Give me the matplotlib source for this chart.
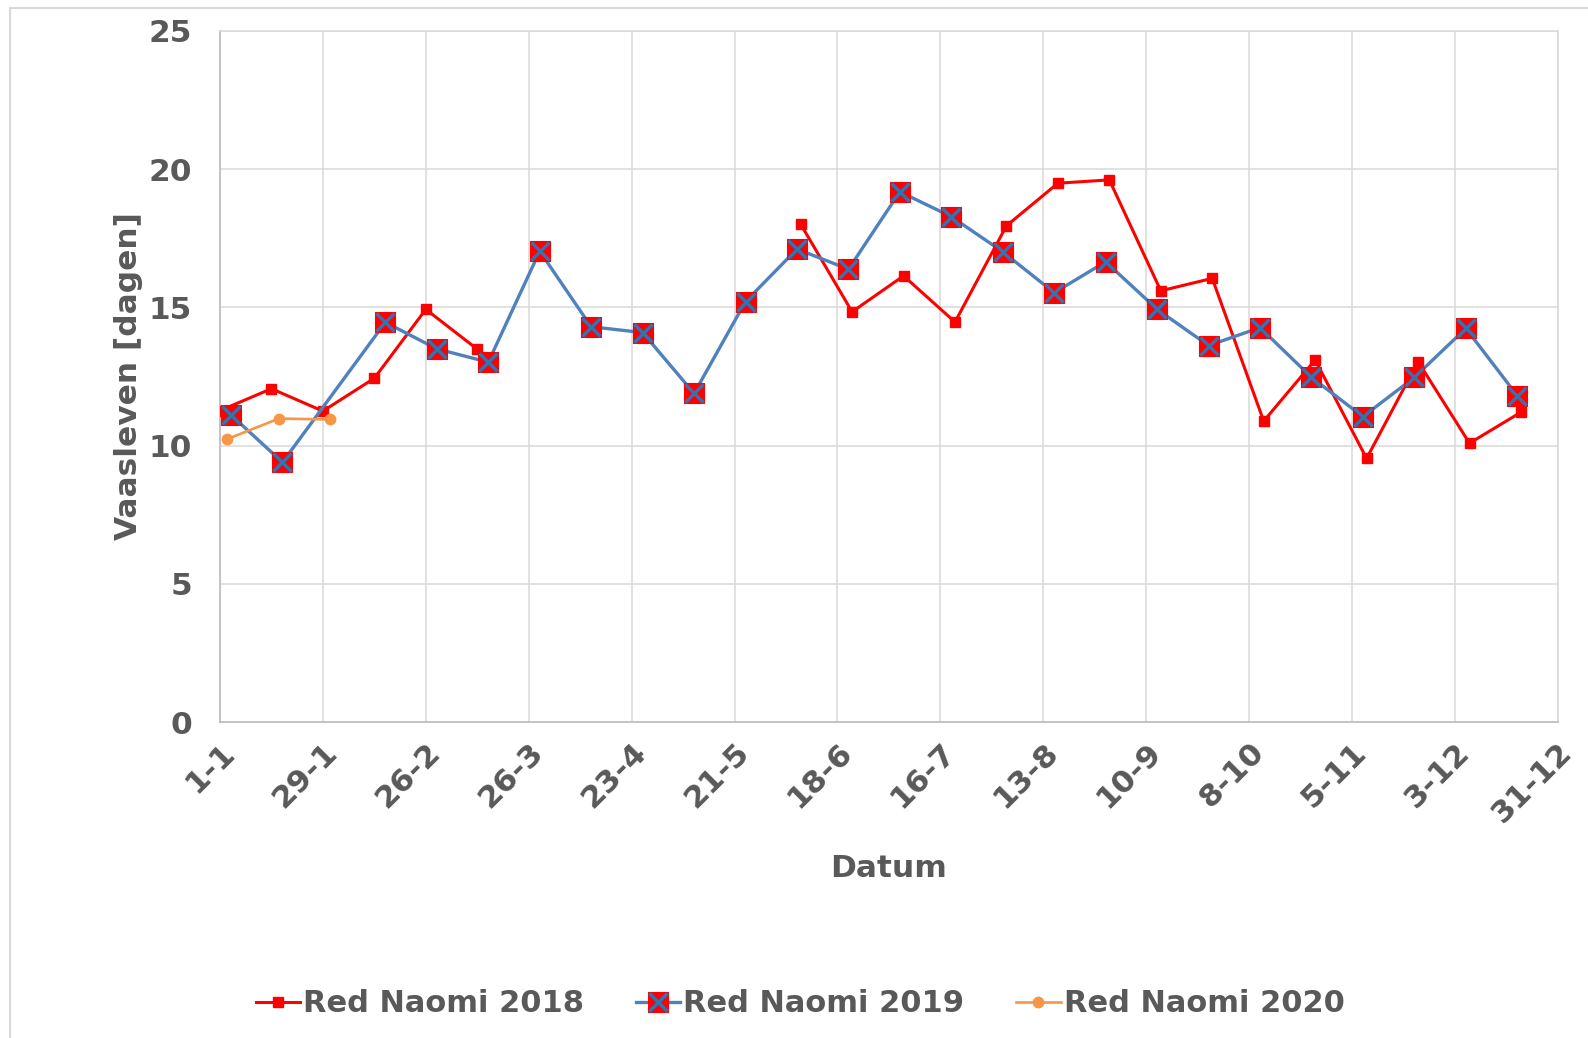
import numpy as np
import matplotlib
matplotlib.use("Agg")
import matplotlib.pyplot as plt
from matplotlib.legend_handler import HandlerTuple
from matplotlib.patches import Rectangle

# ---- data (x = days since 1 January) ----
tick_days = [0, 28, 56, 84, 112, 140, 168, 196, 224, 252, 280, 308, 336, 364]
tick_labels = ["1-1", "29-1", "26-2", "26-3", "23-4", "21-5", "18-6", "16-7",
               "13-8", "10-9", "8-10", "5-11", "3-12", "31-12"]

days_2018 = [0, 14, 28, 42, 56, 70, 158, 172, 186, 200, 214, 228, 242, 256,
             270, 284, 298, 312, 326, 340, 354]
vals_2018 = [11.27, 12.06, 11.25, 12.44, 14.93, 13.49, 18.01, 14.84, 16.14,
             14.47, 17.95, 19.49, 19.61, 15.60, 16.05, 10.89, 13.10, 9.54,
             13.04, 10.09, 11.21]

days_2019 = [3, 17, 45, 59, 73, 87, 101, 115, 129, 143, 157, 171, 185, 199,
             213, 227, 241, 255, 269, 283, 297, 311, 325, 339, 353]
vals_2019 = [11.11, 9.40, 14.46, 13.50, 13.02, 17.03, 14.30, 14.09, 11.89,
             15.21, 17.11, 16.38, 19.18, 18.28, 17.01, 15.53, 16.65, 14.93,
             13.62, 14.27, 12.47, 11.05, 12.47, 14.24, 11.81]

days_2020 = [2, 16, 30]
vals_2020 = [10.24, 10.98, 10.95]

labels = ["Red Naomi 2018", "Red Naomi 2019", "Red Naomi 2020"]

TXT = "#595959"
FS = 22.5
plt.rcParams["font.family"] = ["DejaVu Sans"]
plt.rcParams["font.weight"] = "bold"

fig = plt.figure(figsize=(15.88, 10.38), dpi=100)
ax = fig.add_axes([220 / 1588, 1 - 722.3 / 1038, (1557.7 - 220) / 1588, (722.3 - 30.8) / 1038])


def with_gaps(d, v, maxgap=20):
    d = np.asarray(d, float)
    v = np.asarray(v, float)
    xs, ys = [d[0]], [v[0]]
    for i in range(1, len(d)):
        if d[i] - d[i - 1] > maxgap:
            xs.append(np.nan)
            ys.append(np.nan)
        xs.append(d[i])
        ys.append(v[i])
    return np.array(xs), np.array(ys)


x18, y18 = with_gaps(days_2018, vals_2018)
l18, = ax.plot(x18, y18, color="#FF0000", lw=2.2, marker="s", ms=7,
               mfc="#FF0000", mec="#FF0000", zorder=3)

l19a, = ax.plot(days_2019, vals_2019, color="#4F81BD", lw=2.4, marker="s", ms=14,
                mfc="#FF0000", mec="#FF0000", mew=0.8, zorder=4)
l19b, = ax.plot(days_2019, vals_2019, ls="none", marker="x", ms=12.5,
                mec="#2E75B6", mew=2.4, zorder=5)

l20, = ax.plot(days_2020, vals_2020, color="#F79646", lw=1.9, marker="o", ms=7.5,
               mfc="#F79646", mec="#F79646", zorder=6)

ax.set_xlim(0, 364)
ax.set_ylim(0, 25)
ax.set_xticks(tick_days)
ax.set_xticklabels(tick_labels, rotation=45, ha="right", va="top",
                   rotation_mode="anchor")
ax.set_yticks(np.arange(0, 26, 5))
ax.tick_params(axis="both", length=0, labelsize=FS, labelcolor=TXT)
ax.tick_params(axis="x", pad=11)
ax.tick_params(axis="y", pad=20)
for lab in ax.get_xticklabels() + ax.get_yticklabels():
    lab.set_fontweight("bold")

ax.grid(True, color="#D9D9D9", lw=1.1)
ax.set_axisbelow(True)
for s in ["top", "right"]:
    ax.spines[s].set_color("#D9D9D9")
    ax.spines[s].set_linewidth(1.1)
for s in ["left", "bottom"]:
    ax.spines[s].set_color("#BFBFBF")
    ax.spines[s].set_linewidth(1.3)

ax.set_ylabel("Vaasleven [dagen]", fontsize=FS, fontweight="bold", color=TXT, labelpad=4)
ax.set_xlabel("Datum", fontsize=FS, fontweight="bold", color=TXT, labelpad=18)

fig.legend([l18, (l19a, l19b), l20], labels,
           handler_map={tuple: HandlerTuple(ndivide=1)},
           loc="center", bbox_to_anchor=(800 / 1588, 1 - 1004 / 1038),
           ncol=3, frameon=False, prop={"size": 22, "weight": "bold"},
           labelcolor=TXT, handlelength=1.45, handletextpad=0.1,
           columnspacing=1.7)

fig.patches.append(Rectangle((10 / 1588, -0.1), 2.0, 1.1 - 8.5 / 1038,
                             transform=fig.transFigure, fill=False,
                             edgecolor="#D9D9D9", lw=1.5))

fig.savefig("out.png", dpi=100, facecolor="white")
